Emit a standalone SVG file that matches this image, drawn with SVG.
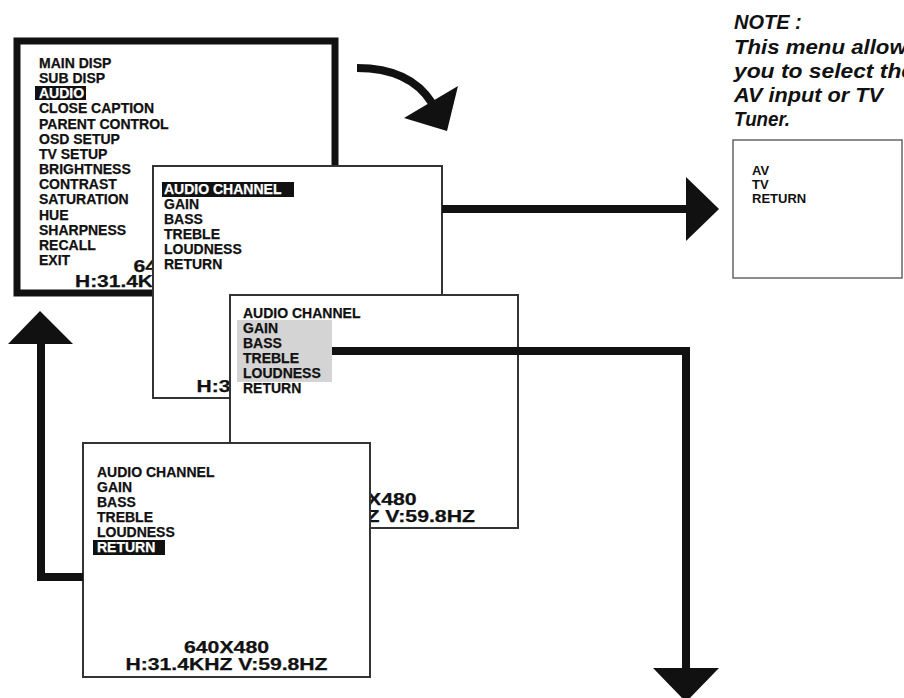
<svg xmlns="http://www.w3.org/2000/svg" width="904" height="698" viewBox="0 0 904 698">
<style>
.t{font-family:"Liberation Sans",Arial,sans-serif;font-weight:bold;font-size:14px;fill:#111;stroke:#111;stroke-width:0.25}
.inv{fill:#fff;stroke:#fff}
.hl{fill:#111}
.frame{fill:#fff;stroke:#333;stroke-width:2}
.big{font-size:16px}
.small{font-size:13px;stroke-width:0}
.note{font-family:"Liberation Sans",Arial,sans-serif;font-weight:bold;font-style:italic;font-size:20px;fill:#111}
.conn{fill:none;stroke:#111;stroke-width:8}
.head{fill:#111}
</style>
<rect width="904" height="698" fill="#fff"/>

<g id="main-menu">
<rect x="17" y="41" width="318" height="252" fill="#fff" stroke="#111" stroke-width="7"/>
<rect class="hl" x="35" y="86" width="51" height="14"/>
<text class="t" x="39" y="68">MAIN DISP</text>
<text class="t" x="39" y="83">SUB DISP</text>
<text class="t inv" x="39" y="98">AUDIO</text>
<text class="t" x="39" y="113">CLOSE CAPTION</text>
<text class="t" x="39" y="129">PARENT CONTROL</text>
<text class="t" x="39" y="144">OSD SETUP</text>
<text class="t" x="39" y="159">TV SETUP</text>
<text class="t" x="39" y="174">BRIGHTNESS</text>
<text class="t" x="39" y="189">CONTRAST</text>
<text class="t" x="39" y="204">SATURATION</text>
<text class="t" x="39" y="220">HUE</text>
<text class="t" x="39" y="235">SHARPNESS</text>
<text class="t" x="39" y="250">RECALL</text>
<text class="t" x="39" y="265">EXIT</text>
<text class="t big" x="133.5" y="272" textLength="23.6" lengthAdjust="spacingAndGlyphs">64</text>
<text class="t big" x="75" y="287" textLength="78" lengthAdjust="spacingAndGlyphs">H:31.4K</text>
</g>

<g id="audio-menu">
<rect class="frame" x="153" y="166" width="289" height="232"/>
<rect class="hl" x="162" y="182" width="132" height="15"/>
<text class="t inv" x="164" y="194">AUDIO CHANNEL</text>
<text class="t" x="164" y="209">GAIN</text>
<text class="t" x="164" y="224">BASS</text>
<text class="t" x="164" y="239">TREBLE</text>
<text class="t" x="164" y="254">LOUDNESS</text>
<text class="t" x="164" y="269">RETURN</text>
<text class="t big" x="196.5" y="392" textLength="33.9" lengthAdjust="spacingAndGlyphs">H:3</text>
</g>

<g id="audio-menu-adjust">
<rect class="frame" x="230" y="295" width="288" height="233"/>
<rect x="237" y="320" width="95" height="62" fill="#d4d4d4"/>
<text class="t" x="243" y="318">AUDIO CHANNEL</text>
<text class="t" x="243" y="333">GAIN</text>
<text class="t" x="243" y="348">BASS</text>
<text class="t" x="243" y="363">TREBLE</text>
<text class="t" x="243" y="378">LOUDNESS</text>
<text class="t" x="243" y="393">RETURN</text>
<text class="t big" x="367" y="505" textLength="49.6" lengthAdjust="spacingAndGlyphs">X480</text>
<text class="t big" x="366.4" y="522" textLength="108.6" lengthAdjust="spacingAndGlyphs">Z V:59.8HZ</text>
</g>

<g id="audio-menu-return">
<rect class="frame" x="83" y="443" width="287" height="234"/>
<rect class="hl" x="93" y="540" width="72" height="15"/>
<text class="t" x="97" y="477">AUDIO CHANNEL</text>
<text class="t" x="97" y="492">GAIN</text>
<text class="t" x="97" y="507">BASS</text>
<text class="t" x="97" y="522">TREBLE</text>
<text class="t" x="97" y="537">LOUDNESS</text>
<text class="t inv" x="97" y="552">RETURN</text>
<text class="t big" x="184" y="653" textLength="85" lengthAdjust="spacingAndGlyphs">640X480</text>
<text class="t big" x="125.5" y="670" textLength="202" lengthAdjust="spacingAndGlyphs">H:31.4KHZ V:59.8HZ</text>
</g>

<g id="av-menu">
<rect x="733" y="140" width="169" height="138" fill="#fff" stroke="#666" stroke-width="1.5"/>
<text class="t small" x="752" y="175">AV</text>
<text class="t small" x="752" y="189">TV</text>
<text class="t small" x="752" y="203">RETURN</text>
</g>

<g id="note">
<text class="note" x="734" y="29">NOTE :</text>
<text class="note" x="734" y="54" textLength="185" lengthAdjust="spacingAndGlyphs">This menu allows</text>
<text class="note" x="734" y="78" textLength="180" lengthAdjust="spacingAndGlyphs">you to select the</text>
<text class="note" x="734" y="102" textLength="149" lengthAdjust="spacingAndGlyphs">AV input or TV</text>
<text class="note" x="734" y="126" textLength="56" lengthAdjust="spacingAndGlyphs">Tuner.</text>
</g>

<g id="connectors">
<path class="conn" d="M357,68 Q410,68 432,103" stroke-width="9"/>
<polygon class="head" points="458,86 447,131 404,118"/>
<path class="conn" d="M442,209 H688"/>
<polygon class="head" points="686,177 719,209 686,241"/>
<path class="conn" d="M332,351 H686 V670"/>
<polygon class="head" points="653,668 719,668 686,702"/>
<path class="conn" d="M83,577 H41 V340"/>
<polygon class="head" points="8,344 73,344 40,311"/>
</g>
</svg>
